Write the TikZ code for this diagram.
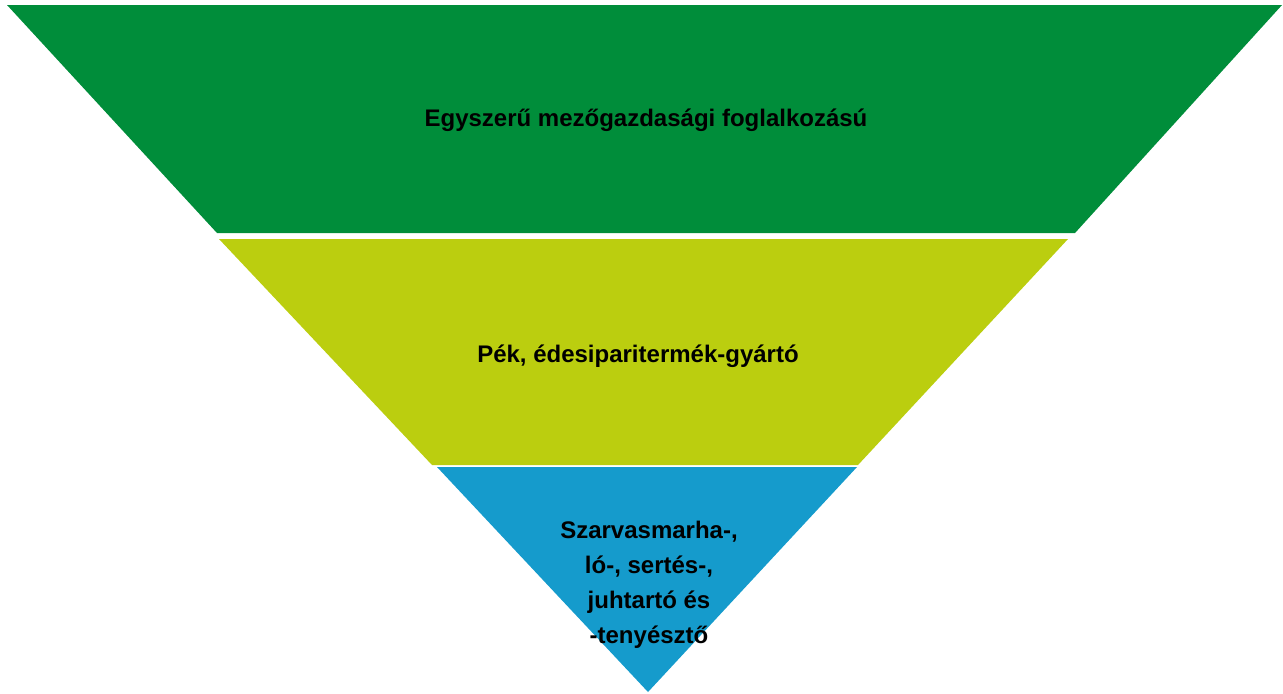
\documentclass[tikz,border=0pt]{standalone}
\usepackage{fontspec}
\setmainfont{Liberation Sans}
\usetikzlibrary{positioning}
\definecolor{bandgreen}{RGB}{0,141,58}
\definecolor{bandlime}{RGB}{187,206,15}
\definecolor{bandblue}{RGB}{21,155,204}
\tikzset{
  band/.style={draw=none},
  blabel/.style={font=\bfseries\fontsize{12}{17.5}\selectfont,align=center,text=black,inner sep=0pt}
}
\begin{document}
\begin{tikzpicture}[x=0.5pt,y=-0.5pt]
\useasboundingbox (0,0) rectangle (1283,693);
% bands of the funnel
\fill[band,bandgreen] (7,5) -- (1282,5) -- (1075,233) -- (217,233) -- cycle;
\fill[band,bandlime] (219,239) -- (1068,239) -- (858,465) -- (432,465) -- cycle;
\fill[band,bandblue] (437,467) -- (857,467) -- (648,692) -- cycle;
% labels
\node[blabel] (top) at (646,120) {Egyszerű mezőgazdasági foglalkozású};
\node[blabel] (mid) at (638,356) {Pék, édesiparitermék-gyártó};
\node[blabel] (low) at (649,585) {Szarvasmarha-,\\ló-, sertés-,\\juhtartó és\\-tenyésztő};
\end{tikzpicture}
\end{document}
